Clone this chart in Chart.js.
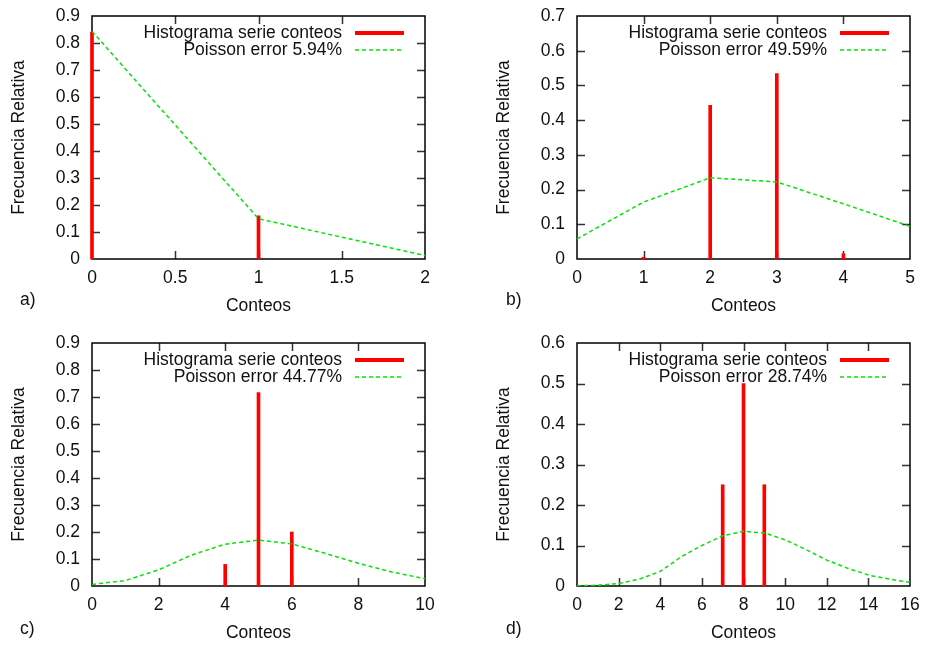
<!DOCTYPE html>
<html>
<head>
<meta charset="utf-8">
<script src="https://cdn.jsdelivr.net/npm/chart.js@4.4.0/dist/chart.umd.min.js"></script>
<style>
  html, body { margin: 0; padding: 0; background: #fff; }
  #wrap { position: relative; width: 925px; height: 645px; overflow: hidden; }
  .panel { position: absolute; width: 440px; height: 318px; }
  .tag { position: absolute; font: 17.5px 'Liberation Sans', Arial, sans-serif; color: #111; line-height: 20px; }
</style>
</head>
<body>
<div id="wrap">
  <div class="panel" style="left:0;top:0"><canvas id="cA" width="440" height="318"></canvas></div>
  <div class="panel" style="left:485px;top:0"><canvas id="cB" width="440" height="318"></canvas></div>
  <div class="panel" style="left:0;top:327px"><canvas id="cC" width="440" height="318"></canvas></div>
  <div class="panel" style="left:485px;top:327px"><canvas id="cD" width="440" height="318"></canvas></div>
  <div class="tag" style="left:20px;top:289px">a)</div>
  <div class="tag" style="left:506px;top:289px">b)</div>
  <div class="tag" style="left:20px;top:618px">c)</div>
  <div class="tag" style="left:506px;top:618px">d)</div>
</div>
<script>
/* ── Data ── */
const histXA = [0, 1];
const histYA = [0.84, 0.16];
const poisXA = [0, 1, 2];
const poisYA = [0.843, 0.149, 0.013];

const histXB = [1, 2, 3, 4];
const histYB = [0.005, 0.443, 0.534, 0.015];
const poisXB = [0, 1, 2, 3, 4, 5];
const poisYB = [0.058, 0.164, 0.234, 0.222, 0.159, 0.094];

const histXC = [4, 5, 6];
const histYC = [0.08, 0.716, 0.2];
const poisXC = [0, 1, 2, 3, 4, 5, 6, 7, 8, 9, 10];
const poisYC = [0.006, 0.020, 0.060, 0.115, 0.155, 0.170, 0.156, 0.121, 0.084, 0.052, 0.027];

const histXD = [7, 8, 9];
const histYD = [0.25, 0.5, 0.25];
const poisXD = [0, 1, 2, 3, 4, 5, 6, 7, 8, 9, 10, 11, 12, 13, 14, 15, 16];
const poisYD = [0.0005, 0.002, 0.006, 0.017, 0.036, 0.072, 0.100, 0.124, 0.135, 0.131, 0.114, 0.090, 0.064, 0.044, 0.027, 0.017, 0.009];

const xMaxes  = [2, 5, 10, 16];
const xSteps  = [0.5, 1, 2, 2];
const yMaxes  = [0.9, 0.7, 0.9, 0.6];
const histLabel = 'Histograma serie conteos';
const poisLabels = ['Poisson error 5.94%', 'Poisson error 49.59%', 'Poisson error 44.77%', 'Poisson error 28.74%'];

const FONT = "'Liberation Sans', Arial, sans-serif";
const FSIZE = 17.5;
const RED = '#ff0000';
const GREEN = '#00e600';

/* ── Frame with inward ticks on all sides + inside legend ── */
const framePlugin = {
  id: 'frame',
  beforeDatasetsDraw(chart) {
    const { ctx, chartArea: a, scales: { x, y } } = chart;
    ctx.save();
    ctx.strokeStyle = '#333';
    ctx.lineWidth = 1.5;
    ctx.beginPath();
    x.ticks.forEach(t => {
      const px = Math.round(x.getPixelForValue(t.value)) + 0.5;
      if (px <= a.left + 2 || px >= a.right - 2) return;
      ctx.moveTo(px, a.bottom); ctx.lineTo(px, a.bottom - 8);
      ctx.moveTo(px, a.top);    ctx.lineTo(px, a.top + 8);
    });
    y.ticks.forEach(t => {
      const py = Math.round(y.getPixelForValue(t.value)) + 0.5;
      if (py <= a.top + 2 || py >= a.bottom - 2) return;
      ctx.moveTo(a.left, py);  ctx.lineTo(a.left + 8, py);
      ctx.moveTo(a.right, py); ctx.lineTo(a.right - 8, py);
    });
    ctx.stroke();
    ctx.strokeStyle = '#000';
    ctx.lineWidth = 1.5;
    ctx.strokeRect(a.left, a.top, a.right - a.left, a.bottom - a.top);
    ctx.restore();
  },
  afterDatasetsDraw(chart, args, opts) {
    const { ctx, chartArea: a } = chart;
    const rows = [
      { text: histLabel, color: RED, width: 4, dash: [] },
      { text: opts.poisText, color: GREEN, width: 1.5, dash: [4, 3] }
    ];
    ctx.save();
    ctx.font = FSIZE + 'px ' + FONT;
    ctx.textAlign = 'right';
    ctx.textBaseline = 'middle';
    rows.forEach((r, i) => {
      const yy = a.top + 17 + i * 17;
      ctx.fillStyle = '#111';
      ctx.fillText(r.text, a.right - 83, yy);
      ctx.beginPath();
      ctx.strokeStyle = r.color;
      ctx.lineWidth = r.width;
      ctx.setLineDash(r.dash);
      ctx.moveTo(a.right - 70, yy);
      ctx.lineTo(a.right - 21, yy);
      ctx.stroke();
    });
    ctx.restore();
  }
};

Chart.defaults.font.family = FONT;
Chart.defaults.font.size = FSIZE;
Chart.defaults.color = '#111';

function makePanel(id, hx, hy, px, py, i) {
  const ctx = document.getElementById(id).getContext('2d');
  return new Chart(ctx, {
    type: 'bar',
    data: {
      datasets: [{
        type: 'bar',
        data: hx.map((v, k) => ({ x: v, y: hy[k] })),
        backgroundColor: RED,
        borderWidth: 0,
        barThickness: 3,
        clip: 4,
        order: 2
      }, {
        type: 'line',
        data: px.map((v, k) => ({ x: v, y: py[k] })),
        borderColor: GREEN,
        borderWidth: 1.5,
        borderDash: [4, 3],
        pointRadius: 0,
        tension: 0,
        fill: false,
        order: 1
      }]
    },
    options: {
      responsive: false,
      animation: false,
      layout: { padding: { top: 16, right: 15, left: 0, bottom: 0 } },
      plugins: {
        legend: { display: false },
        tooltip: { enabled: false },
        frame: { poisText: poisLabels[i] }
      },
      scales: {
        x: {
          type: 'linear',
          min: 0,
          max: xMaxes[i],
          offset: false,
          grid: { display: false, drawTicks: false },
          border: { display: false },
          ticks: { stepSize: xSteps[i], padding: 9, maxRotation: 0, autoSkip: false,
                   callback: v => String(+v.toFixed(2)) },
          title: { display: true, text: 'Conteos', padding: { top: 0, bottom: 1 } },
          afterFit: s => { s.height = 59; s.paddingLeft = 0; s.paddingRight = 0; }
        },
        y: {
          min: 0,
          max: yMaxes[i],
          grid: { display: false, drawTicks: false },
          border: { display: false },
          ticks: { stepSize: 0.1, padding: 12, callback: v => String(+v.toFixed(1)) },
          title: { display: true, text: 'Frecuencia Relativa', padding: { top: 9, bottom: 0 } },
          afterFit: s => { s.width = 92; s.paddingTop = 0; s.paddingBottom = 0; }
        }
      }
    },
    plugins: [framePlugin]
  });
}

makePanel('cA', histXA, histYA, poisXA, poisYA, 0);
makePanel('cB', histXB, histYB, poisXB, poisYB, 1);
makePanel('cC', histXC, histYC, poisXC, poisYC, 2);
makePanel('cD', histXD, histYD, poisXD, poisYD, 3);
</script>
</body>
</html>
